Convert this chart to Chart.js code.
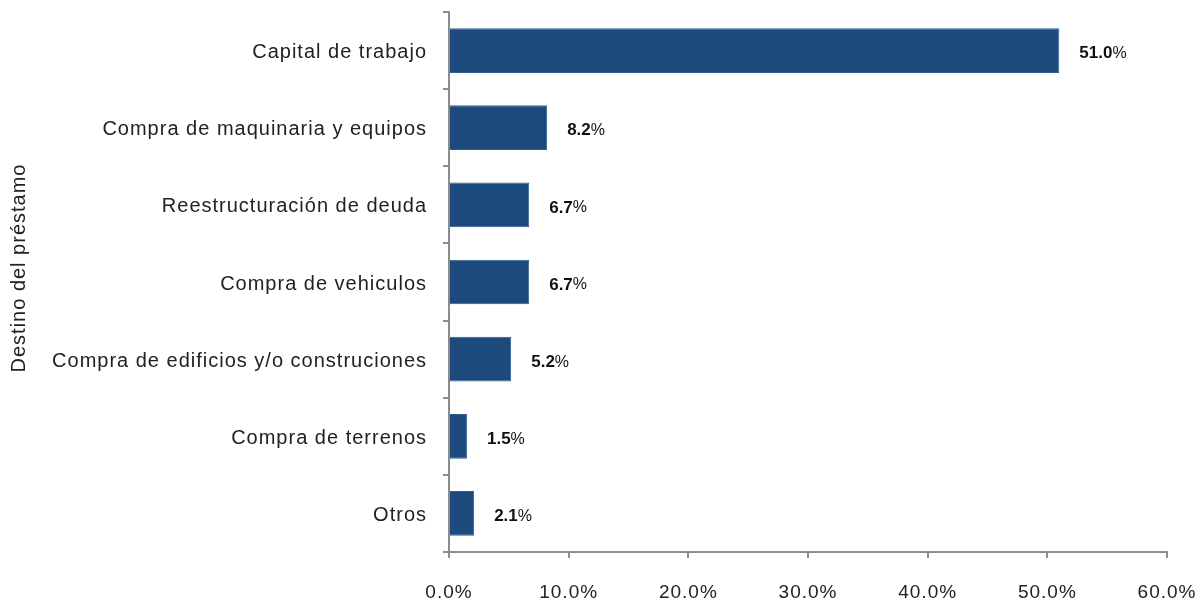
<!DOCTYPE html>
<html>
<head>
<meta charset="utf-8">
<script src="https://cdn.jsdelivr.net/npm/chart.js@4.4.1/dist/chart.umd.min.js"></script>
<style>
  html, body { margin: 0; padding: 0; background: #fff; }
  #wrap { width: 1200px; height: 602px; }
</style>
</head>
<body>
<div id="wrap"><canvas id="grafico" width="1200" height="602"></canvas></div>
<script>
// destino del préstamo, porcentaje de empresas
const destinos = [
  'Capital de trabajo',
  'Compra de maquinaria y equipos',
  'Reestructuración de deuda',
  'Compra de vehiculos',
  'Compra de edificios y/o construciones',
  'Compra de terrenos',
  'Otros'
];
const porcentajes = [51.0, 8.2, 6.7, 6.7, 5.2, 1.5, 2.1];
const ejeX = { min: 0, max: 60, paso: 10 };

const colorBarra = '#1c4a7c';
const colorEje = '#8c8c8c';
const fuente = "'Liberation Sans', Arial, sans-serif";

// un poco de espaciado entre letras para todo el texto del canvas
const espaciado = {
  id: 'espaciado',
  beforeUpdate(chart) { chart.ctx.letterSpacing = '1px'; },
  beforeDraw(chart) { chart.ctx.letterSpacing = '1px'; }
};

// etiquetas con el valor al lado de cada barra (número en negrita, % normal)
const etiquetasValor = {
  id: 'etiquetasValor',
  afterDatasetsDraw(chart) {
    const ctx = chart.ctx;
    const meta = chart.getDatasetMeta(0);
    ctx.save();
    ctx.letterSpacing = '0px';
    ctx.textBaseline = 'middle';
    ctx.fillStyle = '#111';
    meta.data.forEach(function (barra, i) {
      let num = porcentajes[i].toFixed(1);
      let x = barra.x + 20;
      ctx.font = 'bold 17px ' + fuente;
      ctx.fillText(num, x, barra.y + 3);
      x += ctx.measureText(num).width;
      ctx.font = '16px ' + fuente;
      ctx.fillText('%', x, barra.y + 3);
    });
    ctx.restore();
  }
};

// sin relleno extra por las etiquetas de los extremos
function sinRelleno(s) {
  s.paddingTop = 0;
  s.paddingBottom = 0;
  s.paddingLeft = 0;
  s.paddingRight = 0;
}

let grafico = new Chart(document.getElementById('grafico'), {
  type: 'bar',
  data: {
    labels: destinos,
    datasets: [{
      data: porcentajes,
      backgroundColor: colorBarra,
      borderColor: '#2f5f93',
      borderWidth: 1,
      barPercentage: 0.58,
      categoryPercentage: 1
    }]
  },
  options: {
    indexAxis: 'y',
    responsive: false,
    animation: false,
    layout: { padding: { top: 12, right: 33, left: 0, bottom: 0 } },
    plugins: {
      legend: { display: false },
      tooltip: { enabled: false }
    },
    scales: {
      x: {
        min: ejeX.min,
        max: ejeX.max,
        ticks: {
          stepSize: ejeX.paso,
          padding: 23,
          color: '#222',
          font: { family: fuente, size: 19 },
          callback: function (v) { return v.toFixed(1) + '%'; }
        },
        grid: { drawOnChartArea: false, drawTicks: true, tickLength: 6, color: colorEje, lineWidth: 2 },
        border: { color: colorEje, width: 2 },
        afterFit: function (s) { s.height = 50; sinRelleno(s); }
      },
      y: {
        offset: true,
        ticks: {
          padding: 16,
          labelOffset: 2,
          color: '#222',
          font: { family: fuente, size: 20 }
        },
        grid: { offset: true, drawOnChartArea: false, drawTicks: true, tickLength: 6, color: colorEje, lineWidth: 2 },
        border: { color: colorEje, width: 2 },
        title: { display: false },
        afterFit: function (s) { s.width = 449; sinRelleno(s); }
      }
    }
  },
  plugins: [espaciado, etiquetasValor, {
    // título del eje vertical, girado
    id: 'tituloEje',
    afterDraw(chart) {
      const ctx = chart.ctx;
      ctx.save();
      ctx.letterSpacing = '1px';
      ctx.font = '20px ' + fuente;
      ctx.fillStyle = '#222';
      ctx.textAlign = 'center';
      ctx.textBaseline = 'middle';
      ctx.translate(19, 268);
      ctx.rotate(-Math.PI / 2);
      ctx.fillText('Destino del préstamo', 0, 0);
      ctx.restore();
    }
  }]
});
</script>
</body>
</html>
